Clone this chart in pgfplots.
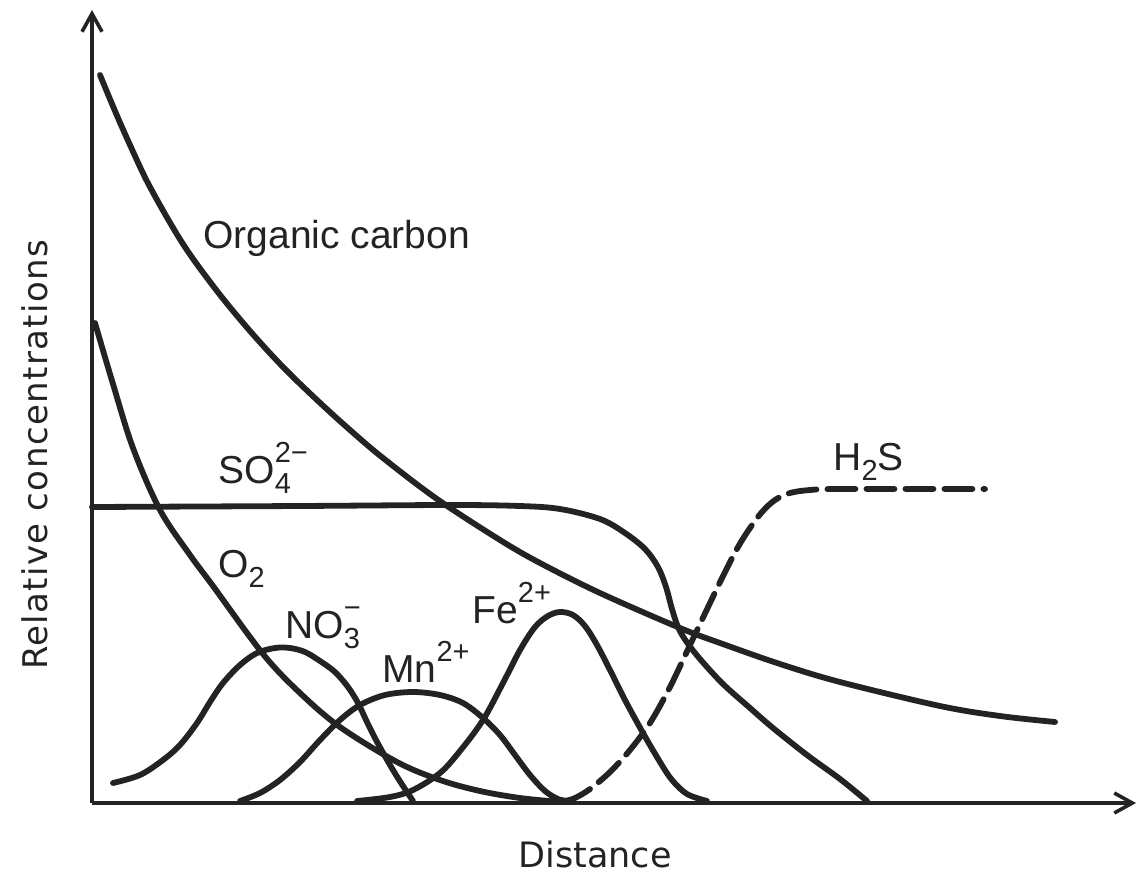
\documentclass[border=0pt]{standalone}
\usepackage{fontspec}
\setmainfont{Liberation Sans}
\newfontfamily\axfont{DejaVu Sans}
\usepackage{pgfplots}
\pgfplotsset{compat=1.18}
\usetikzlibrary{arrows.meta}
\definecolor{ink}{RGB}{35,35,35}
\newcommand\subs[1]{\raisebox{-0.27em}{\fontsize{14.5}{16}\selectfont #1}}
\newcommand\sups[1]{\raisebox{0.52em}{\fontsize{14.5}{16}\selectfont #1}}
\begin{document}
\begin{tikzpicture}
\begin{axis}[scale only axis, width=570pt, height=437.5pt,
  xmin=0, xmax=1140, ymin=0, ymax=875, hide axis, clip=false,
  cycle list={{ink,solid,mark=none}},
  every axis plot post/.append style={ink, line width=2.9pt, smooth, tension=0.55, mark=none, line cap=round}]
\path (axis cs:0,0) rectangle (axis cs:1140,875);
% axes
\draw[ink, line width=1.8pt, -{Straight Barb[length=9pt,width=10pt,line width=1.8pt]}] (axis cs:92,72) -- (axis cs:1136,72);
\draw[ink, line width=1.8pt, -{Straight Barb[length=9pt,width=10pt,line width=1.8pt]}] (axis cs:92,72) -- (axis cs:92,865);
% Organic carbon
\addplot coordinates {(100,800) (115,764) (130,730) (150,688) (183,631) (217,584) (250,544) (283,508) (317,475) (350,445) (383,417) (437,376) (500,335) (540,312) (600,282) (680,247) (720,232) (780,211) (840,193) (940,169) (1000,159) (1055,153)};
% O2
\addplot coordinates {(95,552) (113,491) (133,427) (160,365) (190,320) (213,289) (263,221) (300,182) (340,148) (397,113) (440,95) (480,84) (520,77) (560,73)};
% SO4
\addplot coordinates {(92,368) (300,369) (450,370) (520,369) (560,366) (600,356) (625,342) (645,326) (658,308) (666,288) (672,266) (678,248) (686,234) (700,216) (723,191) (750,167) (773,147) (807,120) (840,96) (867,74)};
% H2S
\addplot[dash pattern=on 14pt off 5.5pt, line cap=butt] coordinates {(565,74) (575,77) (590,86) (610,103) (630,125) (650,152) (670,188) (690,230) (710,272) (725,303) (738,328) (750,347) (762,363) (775,375) (790,382) (810,385) (840,386) (985,386)};
% NO3
\addplot coordinates {(113,92) (140,100) (163,115) (180,130) (197,152) (210,173) (223,192) (240,210) (257,222) (275,227) (290,227) (305,223) (320,214) (335,203) (348,188) (358,172) (367,153) (376,135) (386,117) (396,100) (405,86) (413,74)};
% Mn2+
\addplot coordinates {(240,74) (260,82) (280,95) (300,113) (320,135) (340,155) (360,170) (385,180) (413,183) (440,180) (463,172) (483,157) (500,140) (515,120) (530,100) (545,84) (558,76) (568,74)};
% Fe2+
\addplot coordinates {(357,74) (390,78) (413,85) (440,102) (460,124) (483,155) (503,192) (520,225) (535,248) (548,259) (560,263) (573,260) (585,249) (597,230) (610,205) (625,175) (643,142) (660,113) (672,95) (687,81) (707,74)};
% labels
\begin{scope}[every node/.style={ink, inner sep=0pt, anchor=base west, font=\fontsize{19.5}{23}\selectfont}]
\node at (axis cs:203,627) {Organic carbon};
\node at (axis cs:218,392) {SO\rlap{\subs{4}}\sups{2−}};
\node at (axis cs:218,298) {O\subs{2}};
\node at (axis cs:285,237) {NO\rlap{\subs{3}}\sups{−}};
\node at (axis cs:382,193) {Mn\sups{2+}};
\node at (axis cs:472,252) {Fe\sups{2+}};
\node at (axis cs:833,405) {H\subs{2}S};
\end{scope}
\node[ink, inner sep=0pt, anchor=base, font=\axfont\fontsize{17.5}{21}\selectfont] at (axis cs:595,8) {Distance};
\node[ink, inner sep=0pt, anchor=base, rotate=90, font=\axfont\fontsize{17}{20}\selectfont\addfontfeature{LetterSpace=4}] at (axis cs:47,420) {Relative concentrations};
\end{axis}
\end{tikzpicture}
\end{document}
